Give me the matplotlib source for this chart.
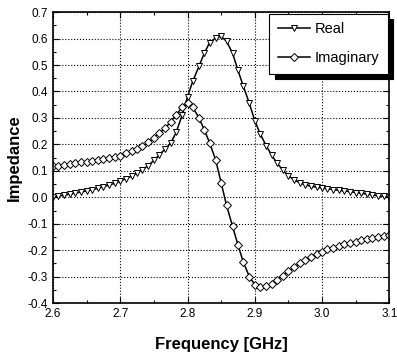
import matplotlib
matplotlib.use("Agg")
import matplotlib.pyplot as plt
from matplotlib.ticker import MultipleLocator

plt.rcParams['font.family'] = ['Liberation Sans', 'DejaVu Sans']

freq = [2.600, 2.608, 2.617, 2.625, 2.633, 2.642, 2.650, 2.658, 2.667, 2.675,
        2.683, 2.692, 2.700, 2.708, 2.717, 2.725, 2.733, 2.742, 2.750, 2.758,
        2.767, 2.775, 2.783, 2.792, 2.800, 2.808, 2.817, 2.825, 2.833, 2.842,
        2.850, 2.858, 2.867, 2.875, 2.883, 2.892, 2.900, 2.908, 2.917, 2.925,
        2.933, 2.942, 2.950, 2.958, 2.967, 2.975, 2.983, 2.992, 3.000, 3.008,
        3.017, 3.025, 3.033, 3.042, 3.050, 3.058, 3.067, 3.075, 3.083, 3.092,
        3.100]

real = [0.000, 0.004, 0.008, 0.012, 0.016, 0.020, 0.024, 0.029, 0.034, 0.040,
        0.046, 0.053, 0.061, 0.070, 0.080, 0.092, 0.105, 0.120, 0.140, 0.160,
        0.183, 0.205, 0.245, 0.310, 0.380, 0.440, 0.495, 0.545, 0.585, 0.603,
        0.608, 0.590, 0.545, 0.480, 0.420, 0.355, 0.290, 0.240, 0.195, 0.160,
        0.130, 0.102, 0.082, 0.066, 0.055, 0.047, 0.042, 0.038, 0.035, 0.032,
        0.029, 0.026, 0.024, 0.021, 0.018, 0.015, 0.012, 0.009, 0.006, 0.003,
        0.000]

imag = [0.117, 0.120, 0.123, 0.126, 0.129, 0.132, 0.135, 0.138, 0.141, 0.144,
        0.147, 0.151, 0.157, 0.166, 0.174, 0.182, 0.193, 0.208, 0.225, 0.242,
        0.262, 0.285, 0.312, 0.340, 0.355, 0.340, 0.300, 0.255, 0.205, 0.140,
        0.055, -0.030, -0.110, -0.180, -0.245, -0.300, -0.330, -0.340, -0.336, -0.326,
        -0.312, -0.296, -0.280, -0.264, -0.250, -0.237, -0.225, -0.214, -0.205, -0.197,
        -0.190, -0.184, -0.178, -0.173, -0.168, -0.163, -0.158, -0.154, -0.150, -0.146,
        -0.143]

fig = plt.figure(figsize=(3.97, 3.57), dpi=100)
ax = fig.add_axes([0.1335, 0.151, 0.847, 0.815])

ax.plot(freq, real, color='k', lw=1.1, marker='v', ms=4.3, mfc='white',
        mec='k', mew=0.7, label='Real')
ax.plot(freq, imag, color='k', lw=1.1, marker='D', ms=3.6, mfc='white',
        mec='k', mew=0.7, label='Imaginary')

ax.set_xlim(2.6, 3.1)
ax.set_ylim(-0.4, 0.7)
ax.xaxis.set_major_locator(MultipleLocator(0.1))
ax.xaxis.set_minor_locator(MultipleLocator(0.05))
ax.yaxis.set_major_locator(MultipleLocator(0.1))
ax.yaxis.set_minor_locator(MultipleLocator(0.05))
ax.xaxis.set_major_formatter(lambda v, p: "%.1f" % v)
ax.yaxis.set_major_formatter(lambda v, p: "%.1f" % v)

ax.tick_params(which='both', direction='in', top=True, right=True, labelsize=8.5)
ax.tick_params(which='major', length=4, width=0.8)
ax.tick_params(which='minor', length=2, width=0.8)
ax.grid(True, which='major', color='k', linestyle=':', linewidth=0.8)
for s in ax.spines.values():
    s.set_linewidth(1.2)

ax.set_xlabel("Frequency [GHz]", fontsize=12, fontweight='bold', labelpad=12)
ax.set_ylabel("Impedance", fontsize=12, fontweight='bold', labelpad=4)

leg = ax.legend(loc='upper right', fontsize=10.5, frameon=True, fancybox=False,
                shadow={'color': 'k', 'alpha': 1, 'ox': 4, 'oy': -4},
                edgecolor='k', handlelength=2.2, handletextpad=0.3,
                borderaxespad=0.1, borderpad=0.6, labelspacing=1.0)
leg.get_frame().set_linewidth(0.8)

fig.savefig("out.png", dpi=100)
